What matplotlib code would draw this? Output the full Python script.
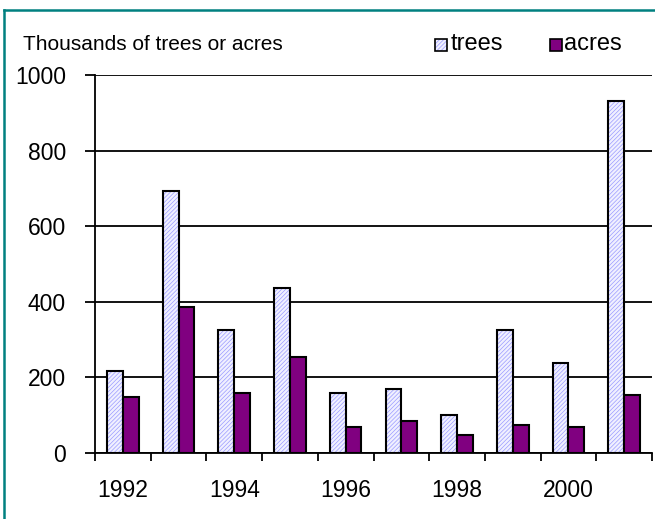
import numpy as np
import matplotlib
matplotlib.use("Agg")
import matplotlib.pyplot as plt
from matplotlib.patches import Rectangle
from matplotlib.lines import Line2D

plt.rcParams['font.family'] = ['Liberation Sans', 'DejaVu Sans']
plt.rcParams['hatch.linewidth'] = 0.5

years = [1992, 1993, 1994, 1995, 1996, 1997, 1998, 1999, 2000, 2001]
trees = [216, 693, 325, 437, 158, 168, 101, 325, 237, 930]
acres = [148, 385, 158, 253, 68, 85, 48, 75, 69, 154]
series_labels = ["trees", "acres"]
y_ticks = [0, 200, 400, 600, 800, 1000]
title_text = "Thousands of trees or acres"

W, H = 655, 519
fig = plt.figure(figsize=(W / 100, H / 100), dpi=100)
fig.patch.set_facecolor('white')

# axes placed in pixel terms
left, right, top, bottom = 95, 652, 75, 453
ax = fig.add_axes([left / W, (H - bottom) / H, (right - left) / W, (bottom - top) / H])

x = np.arange(len(years))
w = 0.283
tree_face = '#f0f0ff'
tree_hatch = '#9a9aff'
acre_color = '#800080'

# hatched fill for trees, then black outline on top
ax.bar(x - w / 2, trees, w, color=tree_face, hatch='////////', edgecolor=tree_hatch,
       linewidth=0, zorder=3)
ax.bar(x - w / 2, trees, w, fill=False, edgecolor='black', linewidth=1.5, zorder=4)
ax.bar(x + w / 2, acres, w, color=acre_color, edgecolor='black', linewidth=1.5, zorder=4)

ax.set_xlim(-0.5, len(years) - 0.5)
ax.set_ylim(0, 1000)

# gridlines
ax.set_yticks(y_ticks)
ax.set_yticklabels([str(v) for v in y_ticks], fontsize=16.5)
ax.yaxis.grid(True, color='black', linewidth=1.3)
ax.set_axisbelow(True)
ax.tick_params(axis='y', direction='out', length=7, width=1.3, pad=14)

# category boundary ticks and centered year labels
ax.set_xticks(np.arange(len(years) + 1) - 0.5)
ax.set_xticklabels([])
ax.set_xticks(x[::2], minor=True)
ax.set_xticklabels([str(y) for y in years[::2]], minor=True, fontsize=16.5)
ax.tick_params(axis='x', which='major', direction='out', length=6, width=1.3)
ax.tick_params(axis='x', which='minor', length=0, pad=19)

for s in ['top', 'right']:
    ax.spines[s].set_visible(False)
for s in ['left', 'bottom']:
    ax.spines[s].set_linewidth(1.3)
    ax.spines[s].set_zorder(5)

# heading
fig.text(23 / W, 1 - 50 / H, title_text, fontsize=15, ha='left', va='baseline')

# legend
def legend_box(px, **kw):
    r = Rectangle((px / W, 1 - 51 / H), 12 / W, 12 / H, transform=fig.transFigure, **kw)
    fig.add_artist(r)
    return r

legend_box(435, facecolor=tree_face, hatch='////////', edgecolor=tree_hatch, linewidth=0)
legend_box(435, fill=False, edgecolor='black', linewidth=1.2)
fig.text(451 / W, 1 - 50 / H, series_labels[0], fontsize=17, ha='left', va='baseline')
legend_box(550, facecolor=acre_color, edgecolor='black', linewidth=1.2)
fig.text(564 / W, 1 - 50 / H, series_labels[1], fontsize=17, ha='left', va='baseline')

# teal frame along the left and top edges
border = '#008080'
fig.add_artist(Line2D([4 / W, 4 / W], [0, 1 - 10 / H], color=border, linewidth=1.8,
                      transform=fig.transFigure, solid_capstyle='projecting'))
fig.add_artist(Line2D([4 / W, 1], [1 - 10 / H, 1 - 10 / H], color=border, linewidth=1.8,
                      transform=fig.transFigure, solid_capstyle='projecting'))

fig.savefig('out.png', dpi=100)
